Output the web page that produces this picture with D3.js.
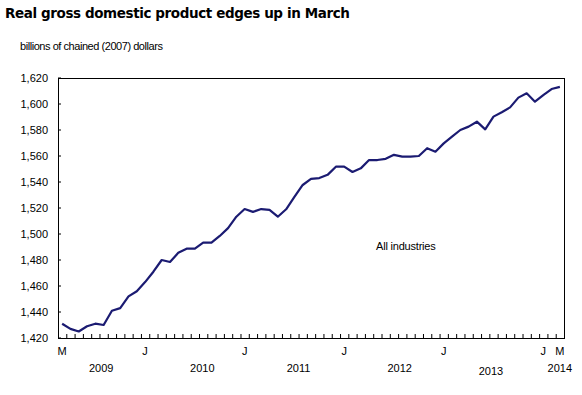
<!DOCTYPE html>
<html>
<head>
<meta charset="utf-8">
<script src="https://cdn.jsdelivr.net/npm/d3@7"></script>
<style>
  body { margin: 0; background: #fff; }
  text { font-family: 'Liberation Sans', Arial, sans-serif; fill: #000; }
</style>
</head>
<body>
<div id="container"></div>
<script>
'use strict';

const w = 582;
const h = 395;
const margin = { top: 78, right: 18, bottom: 57, left: 58 };

// Monthly real GDP, March 2009 to March 2014 (billions of chained 2007 dollars).
const startMonth = new Date(2009, 2, 1);
const gdp = [
    1431, 1427, 1425, 1429, 1431, 1430, 1441, 1443, 1452, 1456,                   // 2009
    1463, 1471, 1480, 1478.5, 1485.5, 1488.7, 1488.7, 1493.3, 1493.3, 1498.5, 1504.5, 1513.3, // 2010
    1519.2, 1517, 1519.2, 1518.5, 1513.3, 1519, 1528.5, 1537.7, 1542.4, 1543, 1545.5, 1551.8, // 2011
    1551.8, 1547.7, 1550.5, 1556.9, 1556.9, 1557.8, 1560.9, 1559.5, 1559.5, 1560, 1566, 1563.3, // 2012
    1569.7, 1574.9, 1580, 1582.6, 1586.4, 1580.5, 1590.3, 1593.7, 1597.4, 1604.9, 1608.2, 1601.8, // 2013
    1606.9, 1611.5, 1613.2                                                         // 2014
];

const yTicks = [1420, 1440, 1460, 1480, 1500, 1520, 1540, 1560, 1580, 1600, 1620];
const monthTickIndex = [0, 10, 22, 34, 46, 58, 60];
const monthTickLabels = ['M', 'J', 'J', 'J', 'J', 'J', 'M'];
const yearLabels = ['2009', '2010', '2011', '2012', '2013', '2014'];
const yearLabelAt = [4.7, 16.9, 28.5, 40.7, 51.7, 60];   // month index under each year

const months = d3.timeMonth.range(startMonth, d3.timeMonth.offset(startMonth, gdp.length));
const dataset = gdp.map((v, i) => ({ i: i, date: months[i], value: v }));

const svg = d3.select('#container')
    .append('svg')
    .attr('width', w)
    .attr('height', h);

// Title and unit line.
svg.append('text')
    .attr('x', 5)
    .attr('y', 18)
    .style('font-family', "'DejaVu Sans', Verdana, sans-serif")
    .style('font-weight', 'bold')
    .style('font-size', '13.5px')
    .style('letter-spacing', '-0.4px')
    .text('Real gross domestic product edges up in March');

svg.append('text')
    .attr('x', 20)
    .attr('y', 50)
    .style('font-size', '11px')
    .style('letter-spacing', '-0.45px')
    .text('billions of chained (2007) dollars');

// Scales.
const xScale = d3.scaleLinear()
    .domain([-0.5, gdp.length - 0.5])
    .range([margin.left, w - margin.right]);
const yScale = d3.scaleLinear()
    .domain([1420, 1620])
    .range([h - margin.bottom, margin.top]);

const plot = svg.append('g');

// Left axis: labels outside, short ticks inside.
const yAxis = d3.axisLeft(yScale)
    .tickValues(yTicks)
    .tickSize(0)
    .tickPadding(10)
    .tickFormat(d3.format(','));
plot.append('g')
    .attr('transform', 'translate(' + margin.left + ', 0)')
    .call(yAxis)
    .call(g => g.select('.domain').remove())
    .call(g => g.selectAll('text').style('font-size', '11px').style('font-family', "'Liberation Sans', Arial, sans-serif"));

plot.selectAll('.ytick')
    .data(yTicks)
    .enter()
    .append('line')
    .attr('x1', margin.left)
    .attr('x2', margin.left + 3)
    .attr('y1', d => yScale(d))
    .attr('y2', d => yScale(d))
    .attr('stroke', '#000');

// Bottom minor ticks at each month boundary.
const xAxis = d3.axisBottom(xScale)
    .tickValues(d3.range(gdp.length + 1).map(k => k - 0.5))
    .tickSizeInner(-4)
    .tickSizeOuter(0)
    .tickFormat('');
plot.append('g')
    .attr('transform', 'translate(0, ' + (h - margin.bottom) + ')')
    .call(xAxis)
    .call(g => g.select('.domain').remove());

// Frame.
plot.append('rect')
    .attr('x', margin.left)
    .attr('y', margin.top)
    .attr('width', w - margin.left - margin.right)
    .attr('height', h - margin.top - margin.bottom)
    .attr('fill', 'none')
    .attr('stroke', '#000')
    .attr('stroke-width', 1)
    .attr('shape-rendering', 'crispEdges');

// Month and year labels.
svg.selectAll('.month-label')
    .data(monthTickIndex)
    .enter()
    .append('text')
    .attr('text-anchor', 'middle')
    .attr('x', d => xScale(d))
    .attr('y', 355)
    .style('font-size', '11px')
    .text((d, i) => monthTickLabels[i]);

svg.selectAll('.year-label')
    .data(yearLabels)
    .enter()
    .append('text')
    .attr('text-anchor', 'middle')
    .attr('x', (d, i) => xScale(yearLabelAt[i]))
    .attr('y', d => d === '2013' ? 375 : 372)
    .style('font-size', '11px')
    .text(d => d);

// The line.
const line = d3.line()
    .x(d => xScale(d.i))
    .y(d => yScale(d.value));

plot.append('path')
    .datum(dataset)
    .attr('fill', 'none')
    .attr('stroke', '#1b1b72')
    .attr('stroke-width', 2.2)
    .attr('stroke-linejoin', 'round')
    .attr('d', line);

svg.append('text')
    .attr('x', 376)
    .attr('y', 250)
    .style('font-size', '11px')
    .style('letter-spacing', '-0.2px')
    .text('All industries');
</script>
</body>
</html>
